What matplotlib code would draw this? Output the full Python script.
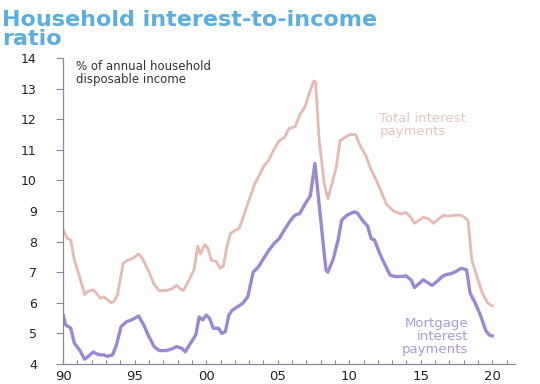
import matplotlib.pyplot as plt
import numpy as np

# total interest payments (% of disposable income)
total_yr = [1990.0, 1990.3, 1990.53, 1990.78, 1991.14, 1991.5, 1991.75, 1992.1, 1992.35, 1992.6,
            1992.84, 1993.1, 1993.33, 1993.57, 1993.8, 1994.2, 1994.55, 1994.9, 1995.27, 1995.6,
            1996.0, 1996.36, 1996.7, 1997.2, 1997.57, 1997.94, 1998.2, 1998.4, 1998.8, 1999.15,
            1999.4, 1999.6, 1999.9, 2000.1, 2000.36, 2000.7, 2000.97, 2001.2, 2001.45, 2001.7,
            2002.06, 2002.3, 2002.55, 2002.9, 2003.15, 2003.4, 2003.64, 2004.0, 2004.37, 2004.73,
            2005.1, 2005.46, 2005.8, 2006.2, 2006.55, 2006.9, 2007.28, 2007.52, 2007.65, 2007.9,
            2008.25, 2008.5, 2008.74, 2009.1, 2009.35, 2009.7, 2010.07, 2010.44, 2010.8, 2011.17,
            2011.53, 2011.9, 2012.26, 2012.62, 2012.74, 2013.1, 2013.6, 2013.96, 2014.3, 2014.56,
            2014.9, 2015.17, 2015.53, 2015.9, 2016.26, 2016.6, 2016.87, 2017.35, 2017.84, 2018.3,
            2018.57, 2018.93, 2019.3, 2019.66, 2020.0]
total_val = [8.38, 8.1, 8.05, 7.4, 6.86, 6.27, 6.38, 6.43, 6.3, 6.15,
             6.2, 6.1, 6.0, 6.05, 6.27, 7.3, 7.4, 7.46, 7.6, 7.4,
             7.0, 6.6, 6.4, 6.4, 6.45, 6.57, 6.45, 6.4, 6.75, 7.08,
             7.85, 7.6, 7.9, 7.8, 7.4, 7.35, 7.13, 7.2, 7.85, 8.27,
             8.38, 8.43, 8.75, 9.23, 9.57, 9.9, 10.1, 10.45, 10.67, 11.0,
             11.3, 11.4, 11.7, 11.75, 12.15, 12.4, 12.95, 13.25, 13.2, 11.3,
             9.9, 9.4, 9.8, 10.45, 11.3, 11.4, 11.5, 11.5, 11.1, 10.8,
             10.35, 10.0, 9.6, 9.2, 9.16, 9.0, 8.9, 8.95, 8.8, 8.6,
             8.7, 8.8, 8.75, 8.6, 8.75, 8.86, 8.83, 8.86, 8.86, 8.7,
             7.4, 6.86, 6.32, 6.0, 5.9]

# mortgage interest payments
mort_yr = [1990.0, 1990.17, 1990.53, 1990.78, 1991.14, 1991.5, 1991.75, 1992.1, 1992.35, 1992.6,
           1992.84, 1993.08, 1993.45, 1993.69, 1994.05, 1994.42, 1994.78, 1995.27, 1995.63, 1995.99,
           1996.36, 1996.72, 1997.2, 1997.57, 1997.94, 1998.3, 1998.54, 1998.9, 1999.27, 1999.51,
           1999.76, 2000.0, 2000.24, 2000.49, 2000.85, 2001.1, 2001.34, 2001.58, 2001.82, 2002.18,
           2002.55, 2002.91, 2003.28, 2003.64, 2004.0, 2004.37, 2004.73, 2005.1, 2005.46, 2005.83,
           2006.19, 2006.55, 2006.92, 2007.28, 2007.6, 2008.37, 2008.5, 2008.86, 2009.22, 2009.47,
           2009.83, 2010.32, 2010.56, 2010.92, 2011.29, 2011.53, 2011.77, 2012.14, 2012.5, 2012.86,
           2013.23, 2013.6, 2013.96, 2014.32, 2014.56, 2014.93, 2015.17, 2015.53, 2015.78, 2016.14,
           2016.5, 2016.75, 2017.1, 2017.48, 2017.84, 2018.2, 2018.45, 2018.8, 2019.17, 2019.54,
           2019.78, 2020.0]
mort_val = [5.6, 5.28, 5.17, 4.68, 4.46, 4.16, 4.25, 4.39, 4.33, 4.3,
            4.3, 4.25, 4.3, 4.57, 5.22, 5.38, 5.44, 5.57, 5.28, 4.9,
            4.57, 4.44, 4.44, 4.49, 4.57, 4.51, 4.4, 4.68, 4.95, 5.54,
            5.44, 5.6, 5.49, 5.17, 5.17, 5.0, 5.06, 5.6, 5.76, 5.87,
            5.98, 6.2, 7.0, 7.17, 7.44, 7.71, 7.93, 8.1, 8.38, 8.65,
            8.86, 8.92, 9.24, 9.5, 10.55, 7.08, 7.0, 7.4, 8.05, 8.7,
            8.86, 8.97, 8.94, 8.7, 8.5, 8.1, 8.05, 7.6, 7.24, 6.9,
            6.86, 6.86, 6.88, 6.75, 6.5, 6.65, 6.75, 6.65, 6.57, 6.7,
            6.86, 6.92, 6.95, 7.03, 7.13, 7.08, 6.32, 6.0, 5.6, 5.1,
            4.95, 4.92]

pink = "#e6b9b3"
purple = "#9a88d2"
axcol = "#8a8a9a"

fig = plt.figure(figsize=(5.4, 3.84), dpi=100)
ax = fig.add_axes([0.117, 0.052, 0.837, 0.797])

ax.plot(total_yr, total_val, color=pink, lw=2.0)
ax.plot(mort_yr, mort_val, color=purple, lw=2.4)

ax.set_xlim(1990, 2021.6)
ax.set_ylim(4, 14)
ax.set_yticks(range(4, 15))
ax.set_xticks(range(1990, 2021, 5))
ax.set_xticklabels(["90", "95", "00", "05", "10", "15", "20"])
ax.set_xticks(range(1990, 2022), minor=True)

for s in ["top", "right"]:
    ax.spines[s].set_visible(False)
for s in ["left", "bottom"]:
    ax.spines[s].set_color(axcol)
    ax.spines[s].set_linewidth(0.9)

ax.tick_params(axis="y", direction="out", length=5, width=0.8, color=axcol,
               labelsize=9, labelcolor="#222222", pad=14)
ax.tick_params(axis="x", which="both", direction="in", length=3, width=0.8, color=axcol,
               labelsize=9.5, labelcolor="#222222", pad=4)

fig.text(0.004, 0.975, "Household interest-to-income\nratio", ha="left", va="top",
         fontsize=16, fontweight="bold", color="#5aaee0", linespacing=0.95)

ax.text(1990.9, 13.95, "% of annual household\ndisposable income", ha="left", va="top",
        fontsize=8.5, color="#333333", linespacing=1.0)
ax.text(2012.1, 12.25, "Total interest\npayments", ha="left", va="top",
        fontsize=9.5, color="#e8c4c0", linespacing=1.0)
ax.text(2018.3, 5.55, "Mortgage\ninterest\npayments", ha="right", va="top",
        fontsize=9.5, color="#a99ad8", linespacing=1.0)

fig.savefig("out.png", dpi=100)
